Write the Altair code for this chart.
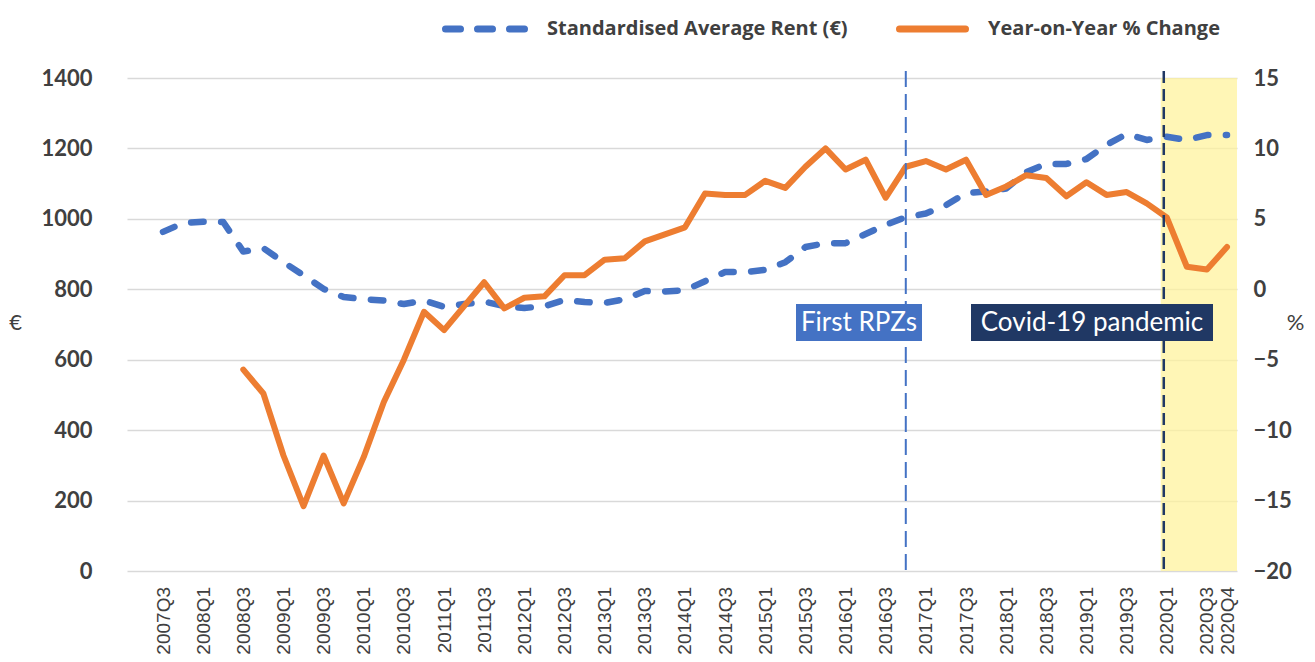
import json
import altair as alt
import pandas as pd

# ---------------- data ----------------
quarters = [
    "2007Q3", "2007Q4",
    "2008Q1", "2008Q2", "2008Q3", "2008Q4",
    "2009Q1", "2009Q2", "2009Q3", "2009Q4",
    "2010Q1", "2010Q2", "2010Q3", "2010Q4",
    "2011Q1", "2011Q2", "2011Q3", "2011Q4",
    "2012Q1", "2012Q2", "2012Q3", "2012Q4",
    "2013Q1", "2013Q2", "2013Q3", "2013Q4",
    "2014Q1", "2014Q2", "2014Q3", "2014Q4",
    "2015Q1", "2015Q2", "2015Q3", "2015Q4",
    "2016Q1", "2016Q2", "2016Q3", "2016Q4",
    "2017Q1", "2017Q2", "2017Q3", "2017Q4",
    "2018Q1", "2018Q2", "2018Q3", "2018Q4",
    "2019Q1", "2019Q2", "2019Q3", "2019Q4",
    "2020Q1", "2020Q2", "2020Q3", "2020Q4",
]

rent_eur = [
    963, 988,
    992, 991, 907, 917,
    877, 840, 801, 778,
    772, 768, 758, 768,
    750, 758, 765, 752,
    747, 752, 770, 764,
    761, 772, 795, 794,
    797, 823, 849, 849,
    855, 877, 920, 931,
    931, 957, 983, 1005,
    1015, 1039, 1073, 1078,
    1086, 1133, 1156, 1156,
    1170, 1210, 1241, 1224,
    1233, 1224, 1238, 1238,
]

yoy_start = 4  # year-on-year series starts in 2008Q3
yoy_pct = [
    -5.7, -7.4,
    -11.8, -15.4, -11.8, -15.2,
    -11.9, -8.0, -5.0, -1.6,
    -2.9, -1.2, 0.5, -1.35,
    -0.6, -0.5, 1.0, 1.0,
    2.1, 2.2, 3.4, 3.9,
    4.4, 6.8, 6.7, 6.7,
    7.7, 7.2, 8.7, 10.0,
    8.5, 9.2, 6.5, 8.7,
    9.1, 8.5, 9.2, 6.7,
    7.3, 8.1, 7.9, 6.6,
    7.6, 6.7, 6.9, 6.1,
    5.1, 1.6, 1.4, 3.0,
]

rent_ticks = [0, 200, 400, 600, 800, 1000, 1200, 1400]
pct_ticks = [-20, -15, -10, -5, 0, 5, 10, 15]
shown_quarters = [q for q in quarters if q.endswith("Q1") or q.endswith("Q3")] + ["2020Q4"]

rpz_quarter = "2016Q4"
covid_quarter = "2020Q1"
rent_label = "Standardised Average Rent (€)"
yoy_label = "Year-on-Year % Change"

# ---------------- layout ----------------
W, H = 1110, 493
BLUE = "#4472C4"
ORANGE = "#ED7D31"
NAVY = "#203864"
TXT = "#404040"
LEG_Y = -49

n = len(quarters)
first_px, last_px = 36.0, 1100.0
step = (last_px - first_px) / (n - 1)
x_dom = [-first_px / step, (n - 1) + (W - last_px) / step]

rent_df = pd.DataFrame({"i": list(range(n)), "quarter": quarters, "rent": rent_eur})
yoy_df = pd.DataFrame(
    {"i": list(range(yoy_start, yoy_start + len(yoy_pct))), "quarter": quarters[yoy_start:], "yoy": yoy_pct}
)
one = pd.DataFrame({"k": [0]})

xscale = alt.Scale(domain=x_dom, nice=False, zero=False)
xaxis = alt.Axis(
    title=None,
    values=[quarters.index(q) for q in shown_quarters],
    labelExpr=json.dumps(quarters) + "[datum.value]",
    labelAngle=270,
    labelFont="Liberation Sans",
    labelFontSize=19,
    labelColor=TXT,
    labelPadding=15.5,
    ticks=False,
    tickSize=0,
    domain=False,
    grid=False,
    labelOverlap=False,
    labelFlush=False,
    labelBound=False,
)
xenc = alt.X("i:Q", scale=xscale, axis=xaxis)


def xdat(q):
    return alt.XDatum(quarters.index(q), type="quantitative", scale=xscale, axis=xaxis)


shade = alt.Chart(one).mark_rect(color="#FFF29A", opacity=0.72, xOffset=-6).encode(
    x=xdat(covid_quarter), x2=alt.value(W), y=alt.value(0), y2=alt.value(H)
)

rent_line = alt.Chart(rent_df).mark_line(
    color=BLUE, strokeWidth=6.5, strokeDash=[12.5, 17.5], strokeCap="round", strokeJoin="round"
).encode(
    x=xenc,
    y=alt.Y(
        "rent:Q",
        scale=alt.Scale(domain=[0, 1400], nice=False, zero=False),
        axis=alt.Axis(
            orient="left",
            values=rent_ticks,
            format="d",
            title="€",
            titleAngle=0,
            titleX=-112,
            titleY=244,
            titleAlign="center",
            titleBaseline="middle",
            titleFont="Lato",
            titleFontSize=22,
            titleFontWeight="normal",
            titleColor=TXT,
            labelFont="Lato",
            labelFontSize=22,
            labelFontWeight="bold",
            labelColor=TXT,
            labelPadding=35,
            ticks=False,
            tickSize=0,
            domain=False,
            grid=True,
            gridColor="#D9D9D9",
            gridWidth=1.5,
        ),
    ),
)

yoy_line = alt.Chart(yoy_df).mark_line(
    color=ORANGE, strokeWidth=6, strokeCap="round", strokeJoin="round"
).encode(
    x=xenc,
    y=alt.Y(
        "yoy:Q",
        scale=alt.Scale(domain=[-20, 15], nice=False, zero=False),
        axis=alt.Axis(
            orient="right",
            values=pct_ticks,
            title="%",
            titleAngle=0,
            titleX=58,
            titleY=244,
            titleAlign="center",
            titleBaseline="middle",
            titleFont="Lato",
            titleFontSize=22,
            titleFontWeight="normal",
            titleColor=TXT,
            labelFont="Lato",
            labelFontSize=22,
            labelFontWeight="bold",
            labelColor=TXT,
            labelPadding=16,
            ticks=False,
            tickSize=0,
            domain=False,
            grid=False,
        ),
    ),
)

rpz_rule = alt.Chart(one).mark_rule(color=BLUE, strokeWidth=2, strokeDash=[16, 7]).encode(
    x=xdat(rpz_quarter), y=alt.value(-7), y2=alt.value(H)
)
covid_rule = alt.Chart(one).mark_rule(color=NAVY, strokeWidth=2.5, strokeDash=[12, 6], xOffset=-3).encode(
    x=xdat(covid_quarter), y=alt.value(-7), y2=alt.value(H)
)

rpz_box = alt.Chart(one).mark_rect(color=BLUE).encode(
    x=alt.value(669), x2=alt.value(795), y=alt.value(226), y2=alt.value(263)
)
rpz_text = alt.Chart(one).mark_text(
    text="First RPZs", font="Lato", fontSize=26, color="white", align="center", baseline="middle"
).encode(x=alt.value(732), y=alt.value(245))

covid_box = alt.Chart(one).mark_rect(color=NAVY).encode(
    x=alt.value(844), x2=alt.value(1086), y=alt.value(226), y2=alt.value(263)
)
covid_text = alt.Chart(one).mark_text(
    text="Covid-19 pandemic", font="Lato", fontSize=26, color="white", align="center", baseline="middle"
).encode(x=alt.value(965), y=alt.value(245))

# legend
leg_rent_sym = alt.Chart(one).mark_rule(
    color=BLUE, strokeWidth=7, strokeDash=[15, 17], strokeCap="round"
).encode(x=alt.value(318.5), x2=alt.value(397.5), y=alt.value(LEG_Y))
leg_rent_txt = alt.Chart(one).mark_text(
    text=rent_label, font="Open Sans", fontSize=20, fontWeight="bold", color=TXT, align="left", baseline="middle"
).encode(x=alt.value(420), y=alt.value(LEG_Y))
leg_yoy_sym = alt.Chart(one).mark_rule(color=ORANGE, strokeWidth=7, strokeCap="round").encode(
    x=alt.value(772.5), x2=alt.value(838.5), y=alt.value(LEG_Y)
)
leg_yoy_txt = alt.Chart(one).mark_text(
    text=yoy_label, font="Open Sans", fontSize=20, fontWeight="bold", color=TXT, align="left", baseline="middle"
).encode(x=alt.value(861), y=alt.value(LEG_Y))

chart = (
    alt.layer(
        shade,
        rent_line,
        yoy_line,
        rpz_rule,
        covid_rule,
        rpz_box,
        rpz_text,
        covid_box,
        covid_text,
        leg_rent_sym,
        leg_rent_txt,
        leg_yoy_sym,
        leg_yoy_txt,
    )
    .resolve_scale(y="independent")
    .properties(
        width=W,
        height=H,
        padding={"left": 0, "top": 11, "right": 0, "bottom": 0},
        background="white",
    )
    .configure_view(stroke=None)
)

chart.save("out.html", embed_options={"renderer": "svg", "actions": False})
